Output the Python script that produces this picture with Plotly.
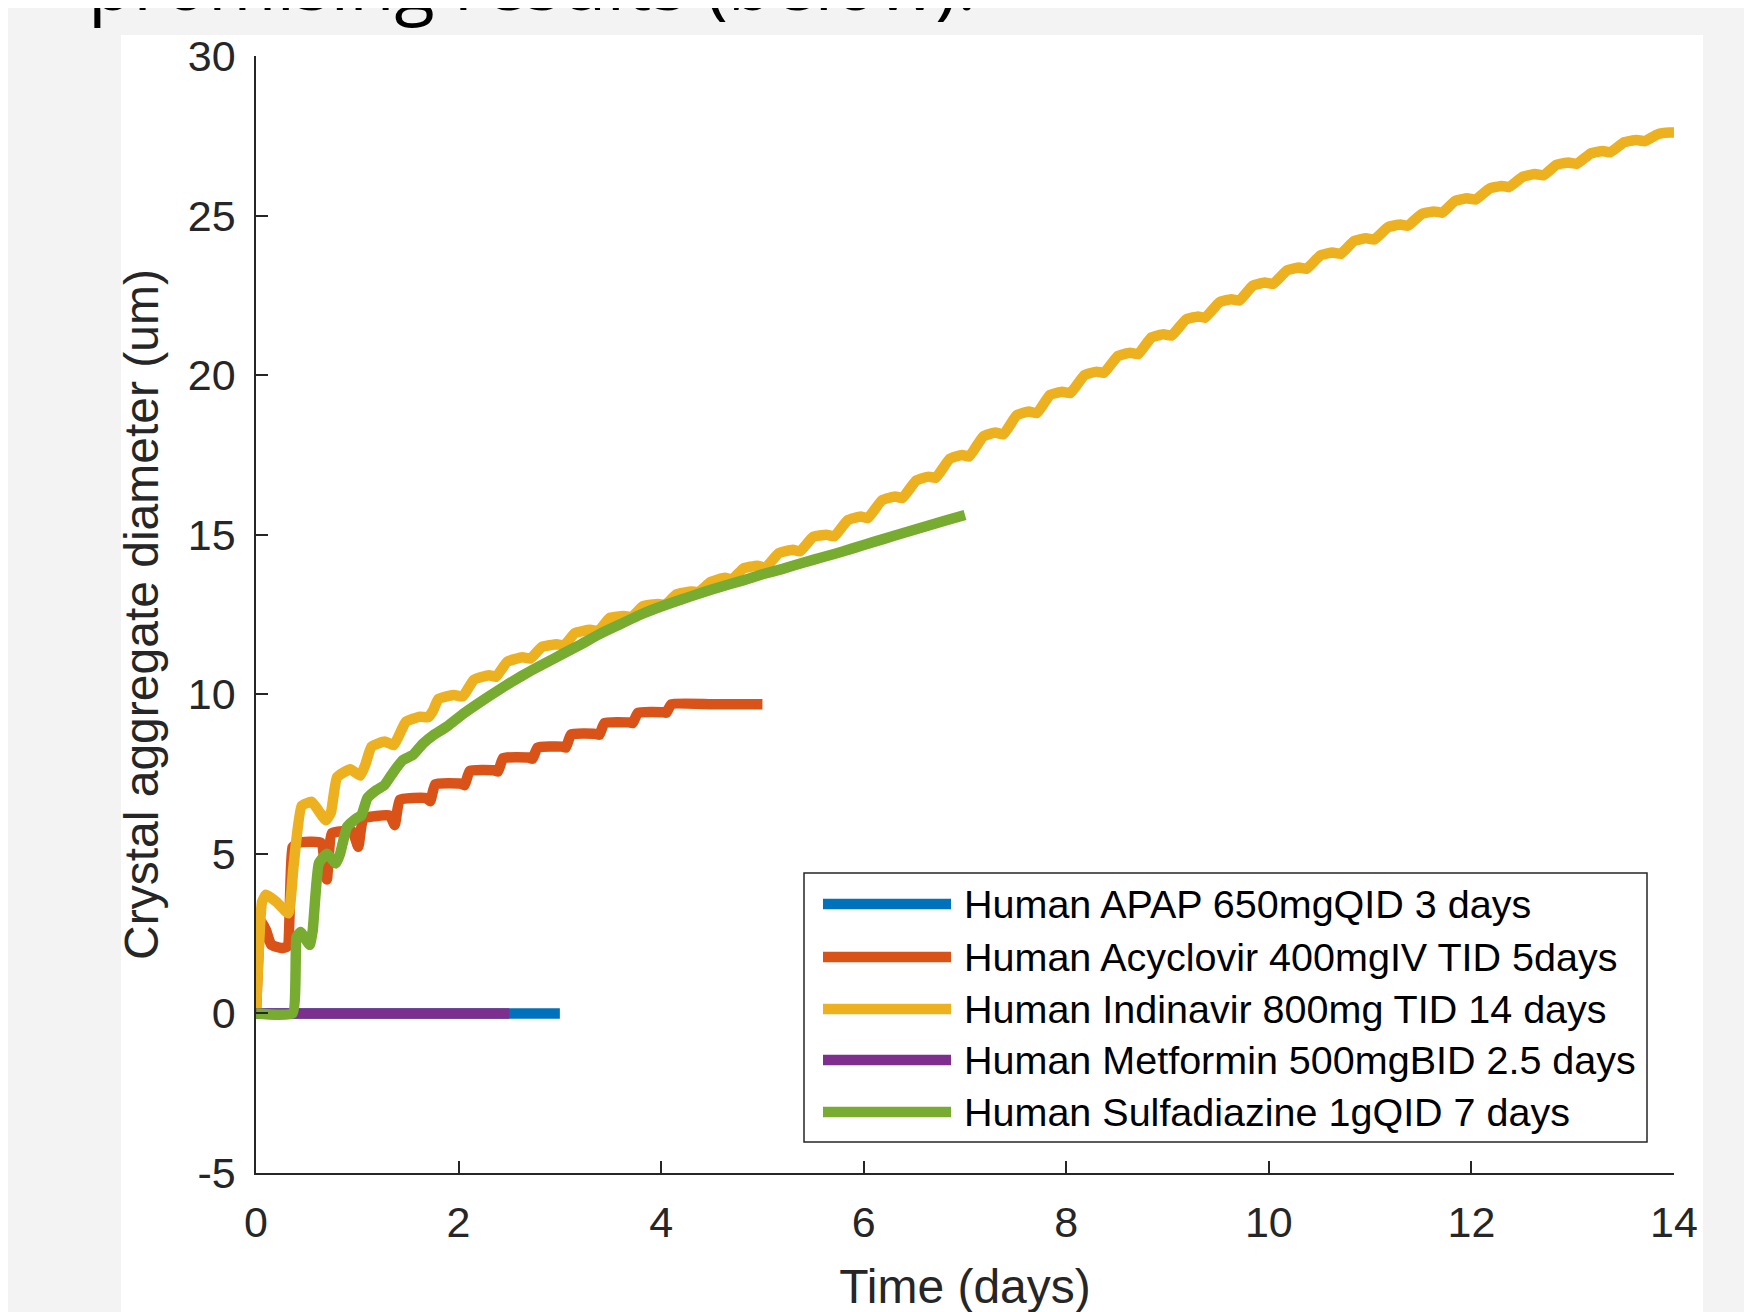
import plotly.graph_objects as go

# ---------------- data ----------------
series_names = [
    "Human APAP 650mgQID 3 days",
    "Human Acyclovir 400mgIV TID 5days",
    "Human Indinavir 800mg TID 14 days",
    "Human Metformin 500mgBID 2.5 days",
    "Human Sulfadiazine 1gQID 7 days",
]

apap_t = [0.0, 3.0]
apap_v = [0.0, 0.0]

acyclovir_t = [0.0, 0.05, 0.10, 0.15, 0.25, 0.31, 0.36, 0.42, 0.64, 0.70, 0.75, 0.95,
               1.01, 1.06, 1.32, 1.37, 1.42, 1.68, 1.72, 1.77, 2.02, 2.06, 2.11, 2.35,
               2.39, 2.44, 2.69, 2.73, 2.78, 3.02, 3.06, 3.11, 3.35, 3.39, 3.44, 3.68,
               3.72, 3.77, 4.01, 4.05, 4.10, 4.50, 5.00]
acyclovir_v = [0.0, 2.9, 2.6, 2.15, 2.05, 2.1, 5.2, 5.35, 5.35, 4.2, 5.65, 5.7,
               5.22, 6.1, 6.2, 5.9, 6.7, 6.75, 6.65, 7.18, 7.2, 7.15, 7.6, 7.62,
               7.58, 8.0, 8.02, 7.98, 8.33, 8.36, 8.33, 8.74, 8.76, 8.73, 9.1, 9.12,
               9.1, 9.42, 9.44, 9.42, 9.69, 9.69, 9.69]

indinavir_t = [0.00, 0.06, 0.10, 0.20, 0.32,
               0.37, 0.45, 0.55, 0.69,
               0.74, 0.80, 0.93, 1.03,
               1.08, 1.14, 1.27, 1.36,
               1.41, 1.48, 1.62, 1.70,
               1.75, 1.80, 1.95, 2.04,
               2.15, 2.30, 2.37, 2.48, 2.63, 2.71, 2.82, 2.97, 3.04,
               3.15, 3.30, 3.38, 3.49, 3.63, 3.71, 3.82, 3.97, 4.04,
               4.15, 4.30, 4.37, 4.49, 4.63, 4.70, 4.81, 4.95, 5.03,
               5.16, 5.30, 5.37, 5.50, 5.63, 5.71, 5.84, 5.97, 6.04,
               6.18, 6.31, 6.38, 6.52, 6.64, 6.71, 6.85, 6.97, 7.04,
               7.18, 7.30, 7.38, 7.51, 7.63, 7.71, 7.84, 7.96, 8.04,
               8.18, 8.30, 8.37, 8.51, 8.63, 8.71, 8.84, 8.96, 9.04,
               9.18, 9.30, 9.37, 9.51, 9.63, 9.71, 9.84, 9.96, 10.04,
               10.18, 10.30, 10.37, 10.51, 10.63, 10.71, 10.84, 10.96, 11.04,
               11.18, 11.30, 11.37, 11.51, 11.63, 11.71, 11.84, 11.96, 12.04,
               12.18, 12.30, 12.37, 12.51, 12.63, 12.71, 12.84, 12.96, 13.04,
               13.18, 13.30, 13.37, 13.51, 13.63, 13.71, 13.84, 13.96, 14.00]
indinavir_v = [0.0, 3.5, 3.72, 3.5, 3.14,
               4.6, 6.5, 6.63, 6.05,
               6.3, 7.4, 7.65, 7.45,
               7.8, 8.36, 8.52, 8.41,
               8.7, 9.14, 9.3, 9.28,
               9.5, 9.85, 9.98, 9.93,
               10.45, 10.6, 10.55, 11.02, 11.16, 11.12, 11.48, 11.57, 11.53,
               11.92, 12.02, 11.98, 12.39, 12.45, 12.42, 12.76, 12.83, 12.8,
               13.13, 13.22, 13.2, 13.52, 13.65, 13.6, 13.94, 14.03, 13.97,
               14.42, 14.53, 14.48, 14.93, 15.0, 14.95, 15.45, 15.57, 15.52,
               16.08, 16.2, 16.15, 16.7, 16.82, 16.78, 17.38, 17.5, 17.45,
               18.08, 18.2, 18.15, 18.74, 18.86, 18.81, 19.38, 19.48, 19.44,
               20.0, 20.11, 20.07, 20.6, 20.7, 20.66, 21.18, 21.28, 21.24,
               21.74, 21.84, 21.8, 22.28, 22.38, 22.34, 22.8, 22.9, 22.86,
               23.28, 23.37, 23.33, 23.75, 23.84, 23.8, 24.2, 24.29, 24.25,
               24.64, 24.72, 24.68, 25.05, 25.13, 25.09, 25.46, 25.54, 25.5,
               25.85, 25.93, 25.89, 26.22, 26.3, 26.26, 26.59, 26.66, 26.62,
               26.95, 27.02, 26.98, 27.3, 27.37, 27.33, 27.55, 27.6, 27.6]

metformin_t = [0.0, 2.5]
metformin_v = [0.0, 0.0]

sulfadiazine_t = [0.0, 0.36, 0.40, 0.44, 0.53, 0.56, 0.62, 0.70, 0.79, 0.83, 0.90, 0.99,
                  1.04, 1.10, 1.19, 1.27, 1.36, 1.45, 1.55, 1.65, 1.75, 1.88, 2.05, 2.21,
                  2.38, 2.54, 2.71, 2.87, 3.03, 3.20, 3.40, 3.60, 3.80, 4.00, 4.20, 4.40,
                  4.60, 4.80, 5.00, 5.20, 5.40, 5.60, 5.80, 6.00, 6.20, 6.40, 6.60, 6.80, 7.00]
sulfadiazine_v = [0.0, 0.0, 2.4, 2.55, 2.15, 2.6, 4.7, 5.0, 4.7, 5.0, 5.85, 6.11,
                  6.2, 6.75, 7.0, 7.16, 7.58, 7.94, 8.1, 8.46, 8.72, 8.98, 9.4, 9.75,
                  10.1, 10.42, 10.73, 11.0, 11.27, 11.55, 11.9, 12.2, 12.5, 12.75, 12.97, 13.18,
                  13.38, 13.56, 13.76, 13.93, 14.12, 14.3, 14.48, 14.68, 14.87, 15.06, 15.25, 15.44, 15.62]

x_ticks = [0, 2, 4, 6, 8, 10, 12, 14]
y_ticks = [-5, 0, 5, 10, 15, 20, 25, 30]
y_tick_labels = ["-5", "0", "5", "10", "15", "20", "25", "30"]

# ---------------- styling ----------------
colors = ["#0072BD", "#D95319", "#EDB120", "#7E2F8E", "#77AC30"]
shapes_kind = ["linear", "spline", "spline", "linear", "spline"]
ts = [apap_t, acyclovir_t, indinavir_t, metformin_t, sulfadiazine_t]
vs = [apap_v, acyclovir_v, indinavir_v, metformin_v, sulfadiazine_v]
LW = 10.5
AX = "#262626"
FONT = "Liberation Sans"

fig = go.Figure()
for name, t, v, c, sk in zip(series_names, ts, vs, colors, shapes_kind):
    line = dict(color=c, width=LW, shape=sk)
    if sk == "spline":
        line["smoothing"] = 0.4
    fig.add_trace(go.Scatter(x=t, y=v, mode="lines", name=name, line=line,
                             showlegend=False))

W, H = 1752, 1312
OFF = 8                      # page body margin
L, R, T, B = 248, 86, 48, 147
pw, ph = W - L - R, H - T - B


def px(xpage):
    return (xpage - OFF - L) / pw


def py(ypage):
    return (H - B - (ypage - OFF)) / ph


shapes = [
    # white slide panel
    dict(type="rect", xref="paper", yref="paper", x0=px(121), x1=px(1703),
         y0=py(1330), y1=py(35), fillcolor="white", line=dict(width=0), layer="below"),
    # legend box
    dict(type="rect", xref="paper", yref="paper", x0=px(804), x1=px(1647),
         y0=py(1142), y1=py(873), fillcolor="white", line=dict(color=AX, width=1.5),
         layer="above"),
]
annotations = []
rows = [904, 957, 1009, 1060, 1112]
for name, c, ry in zip(series_names, colors, rows):
    shapes.append(dict(type="line", xref="paper", yref="paper", x0=px(823), x1=px(951),
                       y0=py(ry), y1=py(ry), line=dict(color=c, width=LW), layer="above"))
    annotations.append(dict(xref="paper", yref="paper", x=px(962), y=py(ry),
                            xanchor="left", yanchor="middle", text=name, showarrow=False,
                            font=dict(family=FONT, size=39.5, color="#000000")))

annotations.append(dict(xref="paper", yref="paper", x=px(86), y=py(34),
                        xanchor="left", yanchor="bottom", text="promising results (below).",
                        showarrow=False, font=dict(family="Open Sans", size=74, color="#000000")))

fig.update_layout(
    width=W, height=H,
    margin=dict(l=L, r=R, t=T, b=B, autoexpand=False),
    paper_bgcolor="#f3f3f3", plot_bgcolor="white",
    font=dict(family=FONT, color=AX),
    shapes=shapes, annotations=annotations,
    showlegend=False,
)
fig.update_xaxes(
    range=[0, 14], tickvals=x_ticks, ticks="inside", ticklen=12, tickwidth=1.5,
    tickcolor=AX, showline=True, linecolor=AX, linewidth=1.5, showgrid=False,
    zeroline=False, mirror=False, tickfont=dict(size=43, family=FONT, color=AX),
    ticklabelstandoff=11,
    title=dict(text="Time (days)", font=dict(size=48, family=FONT, color=AX), standoff=24),
)
fig.update_yaxes(
    range=[-5, 30], tickvals=y_ticks, ticktext=y_tick_labels, ticks="inside", ticklen=12,
    tickwidth=1.5, tickcolor=AX, showline=True, linecolor=AX, linewidth=1.5,
    showgrid=False, zeroline=False, mirror=False,
    tickfont=dict(size=43, family=FONT, color=AX), ticklabelstandoff=10,
    title=dict(text="Crystal aggregate diameter (um)", font=dict(size=48, family=FONT, color=AX),
               standoff=14),
)

fig.write_html("out.html")
